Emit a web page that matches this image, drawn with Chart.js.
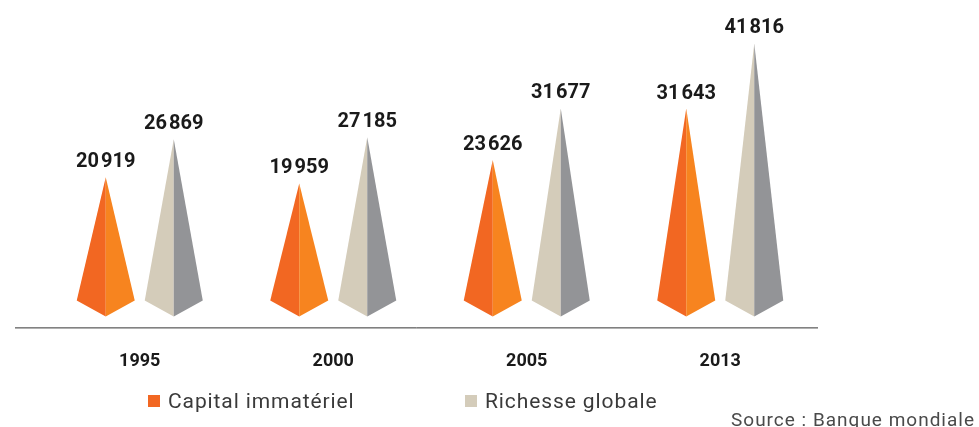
<!DOCTYPE html>
<html>
<head>
<meta charset="utf-8">
<script src="https://cdn.jsdelivr.net/npm/chart.js@4.4.1/dist/chart.umd.min.js"></script>
<style>
	html, body { margin: 0; padding: 0; background: #fff; }
	.wrap { position: relative; width: 979px; height: 427px; font-family: Roboto, sans-serif; }
	canvas { position: absolute; left: 0; top: 0; }
	.legend__item { position: absolute; top: 389px; font-size: 21px; letter-spacing: 0.9px; color: #3a3a3a; display: flex; align-items: center; white-space: nowrap; }
	.legend__box { width: 12px; height: 12px; margin-right: 8px; }
	.source { position: absolute; right: 4px; top: 408px; font-size: 19px; letter-spacing: 1px; color: #4a4a4a; white-space: nowrap; }
</style>
</head>
<body>
<div class="wrap">
	<canvas id="chart" width="979" height="427"></canvas>
	<div class="legend__item" style="left:148px"><span class="legend__box" style="background:#F26722"></span>Capital immatériel</div>
	<div class="legend__item" style="left:465px"><span class="legend__box" style="background:#D4CCBA"></span>Richesse globale</div>
	<div class="source">Source : Banque mondiale</div>
</div>
<script>
const YEARS = ['1995', '2000', '2005', '2013'];
const SERIES_NAMES = ['Capital immatériel', 'Richesse globale'];
const CAPITAL_IMMATERIEL = [20919, 19959, 23626, 31643];
const RICHESSE_GLOBALE = [26869, 27185, 31677, 41816];

//Цвета граней пирамид: [левая, правая]
const FACES = [['#F26722', '#F7841F'], ['#D4CCBA', '#939497']];

function formatValue(v) {
	return String(v).replace(/\B(?=(\d{3})+(?!\d))/g, '\u200A');
}

//Рисуем пирамиды вместо прямоугольников
const pyramidPlugin = {
	id: 'pyramids',
	afterDatasetsDraw(chart) {
		let ctx = chart.ctx;
		chart.data.datasets.forEach((ds, di) => {
			chart.getDatasetMeta(di).data.forEach((bar, i) => {
				let cx = bar.x;
				let half = bar.width / 2;
				let top = bar.y;
				let base = bar.base;

				ctx.save();
				ctx.fillStyle = FACES[di][0];
				ctx.beginPath();
				ctx.moveTo(cx, top);
				ctx.lineTo(cx - half, base - 11);
				ctx.lineTo(cx, base + 5);
				ctx.closePath();
				ctx.fill();

				ctx.fillStyle = FACES[di][1];
				ctx.beginPath();
				ctx.moveTo(cx, top);
				ctx.lineTo(cx + half, base - 11);
				ctx.lineTo(cx, base + 5);
				ctx.closePath();
				ctx.fill();

				ctx.fillStyle = '#1a1a1a';
				ctx.font = 'bold 20px Roboto';
				ctx.textAlign = 'center';
				ctx.textBaseline = 'alphabetic';
				ctx.fillText(formatValue(ds.data[i]), cx, top - 10);
				ctx.restore();
			});
		});
	},
	afterDraw(chart) {
		let ctx = chart.ctx;
		let area = chart.chartArea;
		ctx.save();
		ctx.strokeStyle = '#333';
		ctx.lineWidth = 1;
		ctx.beginPath();
		ctx.moveTo(area.left - 28, area.bottom + 16.5);
		ctx.lineTo(area.right + 1, area.bottom + 16.5);
		ctx.stroke();
		ctx.restore();
	}
};

new Chart(document.getElementById('chart'), {
	type: 'bar',
	data: {
		labels: YEARS,
		datasets: [
			{ label: SERIES_NAMES[0], data: CAPITAL_IMMATERIEL, backgroundColor: 'rgba(0,0,0,0)' },
			{ label: SERIES_NAMES[1], data: RICHESSE_GLOBALE, backgroundColor: 'rgba(0,0,0,0)' }
		]
	},
	options: {
		responsive: false,
		animation: false,
		categoryPercentage: 0.703,
		barPercentage: 0.853,
		layout: { padding: { left: 43, right: 162, top: 23, bottom: 16 } },
		plugins: {
			legend: { display: false },
			tooltip: { enabled: false }
		},
		scales: {
			x: {
				grid: { display: false, drawTicks: false },
				border: { display: false },
				ticks: { color: '#1a1a1a', font: { family: 'Roboto', size: 18, weight: 'bold' }, padding: 39 }
			},
			y: {
				display: false,
				min: 0,
				max: 45000
			}
		}
	},
	plugins: [pyramidPlugin]
});
</script>
</body>
</html>
